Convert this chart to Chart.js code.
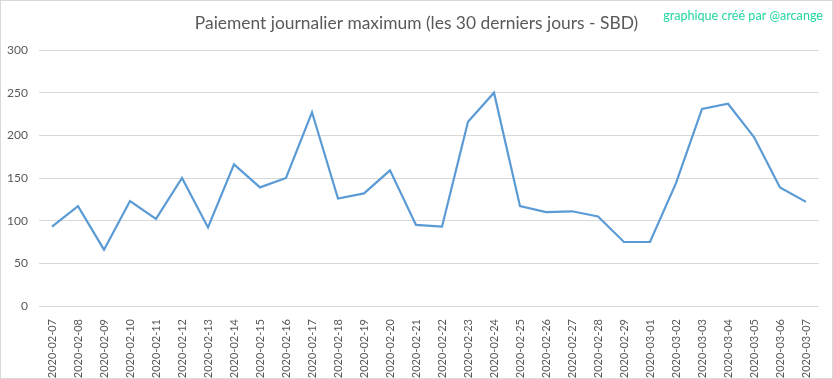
<!DOCTYPE html>
<html lang="fr">
<head>
    <meta charset="UTF-8">
    <title>Paiement journalier maximum</title>
    <script src="https://cdn.jsdelivr.net/npm/chart.js"></script>
    <style>
        body { margin: 0; background: #fff; }
    </style>
</head>
<body>
    <canvas id="payout-chart" width="833" height="379"></canvas>

    <script>
        // Dates (30 derniers jours)
        const days = [
            '2020-02-07', '2020-02-08', '2020-02-09', '2020-02-10', '2020-02-11',
            '2020-02-12', '2020-02-13', '2020-02-14', '2020-02-15', '2020-02-16',
            '2020-02-17', '2020-02-18', '2020-02-19', '2020-02-20', '2020-02-21',
            '2020-02-22', '2020-02-23', '2020-02-24', '2020-02-25', '2020-02-26',
            '2020-02-27', '2020-02-28', '2020-02-29', '2020-03-01', '2020-03-02',
            '2020-03-03', '2020-03-04', '2020-03-05', '2020-03-06', '2020-03-07'
        ];

        // Paiement max en SBD
        const maxPayout = [
            93, 117, 66, 123, 102, 150, 92, 166, 139, 150,
            227, 126, 132, 159, 95, 93, 216, 250, 117, 110,
            111, 105, 75, 75, 144, 231, 237, 198, 139, 122
        ];

        const yTicks = [0, 50, 100, 150, 200, 250, 300];

        const chartTitle = 'Paiement journalier maximum (les 30 derniers jours - SBD)';
        const signatureText = 'graphique créé par @arcange';

        const textGrey = '#595959';
        const gridGrey = '#d9d9d9';

        // titre centre sur le canvas, signature en haut a droite, cadre
        const decorations = {
            id: 'decorations',
            afterDraw(chart) {
                const ctx = chart.ctx;
                ctx.save();
                ctx.strokeStyle = gridGrey;
                ctx.lineWidth = 1;
                ctx.strokeRect(0.5, 0.5, chart.width - 1, chart.height - 1);

                ctx.textBaseline = 'middle';
                ctx.font = '17.4px Lato';
                ctx.fillStyle = textGrey;
                ctx.textAlign = 'center';
                ctx.fillText(chartTitle, chart.width / 2, 23.4);

                ctx.font = '12.6px Lato';
                ctx.fillStyle = '#22d6a2';
                ctx.textAlign = 'right';
                ctx.fillText(signatureText, 823, 16);
                ctx.restore();
            }
        };

        const ctx = document.getElementById('payout-chart').getContext('2d');
        new Chart(ctx, {
            type: 'line',
            data: {
                labels: days,
                datasets: [{
                    label: 'SBD',
                    data: maxPayout,
                    borderColor: '#5b9bd5',
                    borderWidth: 2.2,
                    pointRadius: 0,
                    tension: 0,
                    fill: false
                }]
            },
            options: {
                responsive: false,
                animation: false,
                layout: { padding: { left: 0, right: 14, top: 50, bottom: 0 } },
                plugins: {
                    legend: { display: false },
                    tooltip: { enabled: false },
                    title: { display: false }
                },
                scales: {
                    x: {
                        offset: true,
                        grid: { display: false },
                        border: { display: false },
                        ticks: {
                            color: textGrey,
                            font: { family: 'Lato', size: 11 },
                            minRotation: 90,
                            maxRotation: 90,
                            autoSkip: false,
                            padding: 5
                        },
                        afterFit(scale) { scale.height = 73; }
                    },
                    y: {
                        min: 0,
                        max: 300,
                        border: { display: false },
                        grid: { color: gridGrey, drawTicks: false },
                        afterBuildTicks(scale) {
                            scale.ticks = yTicks.map(v => ({ value: v }));
                        },
                        ticks: {
                            color: textGrey,
                            font: { family: 'Lato', size: 12 },
                            padding: 11
                        },
                        afterFit(scale) { scale.width = 39; }
                    }
                }
            },
            plugins: [decorations]
        });
    </script>
</body>
</html>
